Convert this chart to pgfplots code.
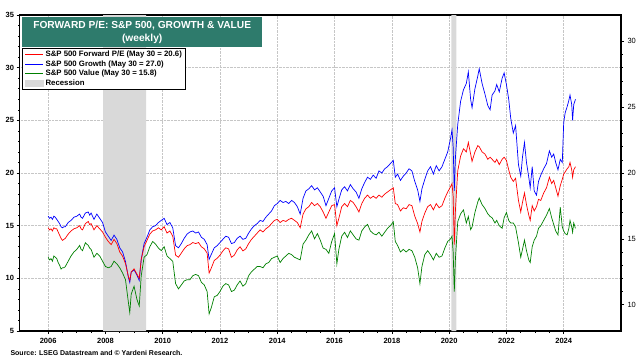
\documentclass[border=0pt]{standalone}
\usepackage{pgfplots}
\pgfplotsset{compat=1.18}
\usepackage{fontspec}
\setmainfont{Liberation Sans}
\definecolor{titleteal}{HTML}{2E7B6C}
\definecolor{recgray}{HTML}{D9D9D9}
\definecolor{sgreen}{HTML}{008000}

\begin{document}
\begin{tikzpicture}
\useasboundingbox (-19.5pt,-29pt) rectangle (620.5pt,331pt);
\begin{axis}[
  at={(0,0)}, anchor=south west,
  scale only axis, width=601.5pt, height=316pt,
  xmin=2005, xmax=2026, ymin=5, ymax=35,
  xtick={2006,2008,...,2024},
  minor x tick num=3,
  ytick={5,10,...,35}, minor y tick num=4,
  xtick pos=lower, ytick pos=left,
  tick align=outside,
  major tick length=3pt, minor tick length=1.5pt,
  axis line style={line width=1.3pt},
  every tick/.style={black, line width=0.6pt},
  grid=major,
  major grid style={densely dotted, gray!45, line width=0.6pt},
  /pgf/number format/assume math mode=true,
  /pgf/number format/set thousands separator={},
  ticklabel style={font=\bfseries\fontsize{7.5}{8}\selectfont},
  xticklabel style={yshift=-1pt},
  yticklabel style={xshift=1pt},
]
\addplot[fill=recgray, draw=none, forget plot] coordinates {(2007.92,5) (2009.42,5) (2009.42,35) (2007.92,35)} \closedcycle;
\addplot[fill=recgray, draw=none, forget plot] coordinates {(2020.08,5) (2020.25,5) (2020.25,35) (2020.08,35)} \closedcycle;
% S&P 500 Growth (left axis)
\addplot[blue, line width=0.7pt] coordinates {
(2006.0,15.9) (2006.05,15.7) (2006.1,15.8) (2006.15,15.6) (2006.2,15.9) (2006.25,15.8) (2006.3,15.6) (2006.35,15.4) (2006.4,15.2) (2006.45,14.9) (2006.5,14.8) (2006.55,14.9) (2006.6,14.9) (2006.65,15.1) (2006.7,15.3) (2006.8,15.5) (2006.9,15.8) (2007.0,15.9) (2007.1,16.1) (2007.15,15.8) (2007.2,15.7) (2007.3,16.2) (2007.4,16.3) (2007.45,16.0) (2007.5,16.2) (2007.6,15.6) (2007.7,16.1) (2007.8,15.7) (2007.9,15.3) (2008.0,14.4) (2008.1,14.0) (2008.2,13.6) (2008.3,14.1) (2008.4,13.7) (2008.5,12.9) (2008.6,12.5) (2008.7,11.6) (2008.8,10.1) (2008.85,9.6) (2008.9,10.6) (2009.0,10.8) (2009.1,10.3) (2009.18,9.8) (2009.25,11.8) (2009.35,13.3) (2009.45,13.9) (2009.55,14.6) (2009.65,14.9) (2009.75,15.0) (2009.85,15.3) (2009.95,15.5) (2010.05,15.7) (2010.15,15.1) (2010.25,15.3) (2010.35,14.8) (2010.45,13.1) (2010.55,12.9) (2010.65,13.3) (2010.75,13.8) (2010.85,14.2) (2010.95,14.4) (2011.05,14.5) (2011.15,14.3) (2011.25,14.4) (2011.35,13.9) (2011.45,13.7) (2011.55,13.2) (2011.62,11.8) (2011.7,12.3) (2011.8,12.9) (2011.9,13.1) (2012.0,13.4) (2012.1,13.7) (2012.2,14.0) (2012.3,13.9) (2012.4,13.3) (2012.5,13.4) (2012.6,13.8) (2012.7,14.0) (2012.8,13.7) (2012.9,13.8) (2013.0,14.3) (2013.1,14.7) (2013.2,15.0) (2013.3,15.2) (2013.4,15.5) (2013.5,15.4) (2013.6,15.8) (2013.7,16.1) (2013.8,16.4) (2013.9,16.9) (2014.0,17.1) (2014.1,17.4) (2014.2,17.2) (2014.3,17.3) (2014.4,17.1) (2014.5,17.4) (2014.6,17.2) (2014.7,16.8) (2014.8,16.1) (2014.9,17.6) (2015.0,18.3) (2015.1,18.5) (2015.2,18.8) (2015.3,18.4) (2015.4,18.6) (2015.5,18.2) (2015.6,17.8) (2015.7,16.9) (2015.8,17.6) (2015.9,18.3) (2016.0,18.6) (2016.08,16.8) (2016.15,17.5) (2016.25,18.4) (2016.35,18.7) (2016.45,18.3) (2016.55,18.9) (2016.65,18.5) (2016.75,18.2) (2016.85,17.6) (2016.95,18.5) (2017.05,19.1) (2017.15,19.6) (2017.25,19.4) (2017.35,19.8) (2017.45,19.5) (2017.55,20.2) (2017.65,20.0) (2017.75,20.4) (2017.85,20.6) (2017.95,20.9) (2018.05,21.2) (2018.12,19.6) (2018.2,19.9) (2018.3,19.3) (2018.4,19.7) (2018.5,20.0) (2018.6,20.4) (2018.7,20.2) (2018.8,19.2) (2018.9,18.4) (2018.98,17.3) (2019.05,18.5) (2019.15,19.4) (2019.25,20.2) (2019.35,20.6) (2019.45,19.9) (2019.55,20.7) (2019.65,20.2) (2019.75,20.6) (2019.85,21.3) (2019.95,22.0) (2020.05,23.3) (2020.1,24.1) (2020.14,22.5) (2020.18,18.3) (2020.22,21.5) (2020.3,24.6) (2020.4,26.8) (2020.5,27.9) (2020.6,28.5) (2020.67,29.6) (2020.75,27.0) (2020.8,26.2) (2020.9,28.0) (2021.0,29.2) (2021.05,29.9) (2021.15,28.5) (2021.25,27.5) (2021.35,26.4) (2021.43,26.0) (2021.5,27.4) (2021.6,27.8) (2021.66,28.4) (2021.75,27.7) (2021.85,29.0) (2021.92,29.5) (2022.0,28.4) (2022.08,27.0) (2022.15,25.2) (2022.24,23.8) (2022.32,24.5) (2022.42,20.8) (2022.5,19.7) (2022.56,21.5) (2022.63,22.9) (2022.7,21.0) (2022.78,19.6) (2022.83,18.6) (2022.9,20.6) (2022.97,18.3) (2023.05,17.9) (2023.12,19.2) (2023.2,19.8) (2023.3,20.4) (2023.4,20.9) (2023.5,22.1) (2023.58,21.5) (2023.65,21.8) (2023.72,21.0) (2023.8,20.3) (2023.88,21.3) (2023.95,21.0) (2024.0,24.8) (2024.05,25.7) (2024.12,26.3) (2024.18,26.9) (2024.22,27.4) (2024.28,26.5) (2024.31,25.0) (2024.35,26.5) (2024.41,27.0)
};
% S&P 500 Forward P/E (left axis)
\addplot[red, line width=0.7pt] coordinates {
(2006.0,14.8) (2006.05,14.6) (2006.1,14.7) (2006.15,14.5) (2006.2,14.8) (2006.25,14.7) (2006.3,14.7) (2006.35,14.4) (2006.4,14.1) (2006.45,13.8) (2006.5,13.6) (2006.55,13.7) (2006.6,13.8) (2006.65,14.0) (2006.7,14.2) (2006.8,14.5) (2006.9,14.7) (2007.0,14.8) (2007.1,15.0) (2007.15,14.7) (2007.2,14.6) (2007.3,15.2) (2007.4,15.4) (2007.45,15.1) (2007.5,15.2) (2007.6,14.6) (2007.7,15.0) (2007.8,14.7) (2007.9,14.4) (2008.0,13.9) (2008.1,13.5) (2008.2,13.2) (2008.3,13.7) (2008.4,13.3) (2008.5,12.5) (2008.6,12.1) (2008.7,11.4) (2008.8,10.2) (2008.85,9.8) (2008.9,10.6) (2009.0,10.9) (2009.1,10.4) (2009.18,10.0) (2009.25,11.8) (2009.35,13.0) (2009.45,13.6) (2009.55,14.2) (2009.65,14.5) (2009.75,14.6) (2009.85,14.8) (2009.95,14.6) (2010.05,14.9) (2010.15,14.3) (2010.25,14.5) (2010.35,14.0) (2010.45,12.2) (2010.55,12.0) (2010.65,12.4) (2010.75,12.8) (2010.85,13.1) (2010.95,13.2) (2011.05,13.4) (2011.15,13.3) (2011.25,13.4) (2011.35,13.0) (2011.45,12.8) (2011.55,12.4) (2011.62,10.5) (2011.7,11.0) (2011.8,11.7) (2011.9,11.9) (2012.0,12.2) (2012.1,12.6) (2012.2,12.9) (2012.3,12.8) (2012.4,12.0) (2012.5,12.2) (2012.6,12.7) (2012.7,13.0) (2012.8,12.6) (2012.9,12.8) (2013.0,13.3) (2013.1,13.7) (2013.2,14.0) (2013.3,14.3) (2013.4,14.6) (2013.5,14.4) (2013.6,14.7) (2013.7,14.9) (2013.8,15.2) (2013.9,15.5) (2014.0,15.6) (2014.1,15.3) (2014.2,15.5) (2014.3,15.4) (2014.4,15.6) (2014.5,15.7) (2014.6,15.5) (2014.7,15.3) (2014.8,14.8) (2014.9,16.1) (2015.0,16.6) (2015.1,16.8) (2015.2,17.2) (2015.3,16.9) (2015.4,17.1) (2015.5,16.8) (2015.6,16.3) (2015.7,15.7) (2015.8,16.3) (2015.9,16.9) (2016.0,17.0) (2016.08,15.0) (2016.15,15.7) (2016.25,16.8) (2016.35,17.1) (2016.45,16.8) (2016.55,17.4) (2016.65,17.2) (2016.75,16.8) (2016.85,16.3) (2016.95,17.1) (2017.05,17.6) (2017.15,17.9) (2017.25,17.6) (2017.35,17.8) (2017.45,17.6) (2017.55,17.9) (2017.65,17.7) (2017.75,18.0) (2017.85,18.2) (2017.95,18.4) (2018.05,18.6) (2018.12,17.1) (2018.2,17.0) (2018.3,16.4) (2018.4,16.7) (2018.5,16.6) (2018.6,17.0) (2018.7,16.9) (2018.8,15.9) (2018.9,15.2) (2018.98,14.4) (2019.05,15.4) (2019.15,16.2) (2019.25,16.8) (2019.35,17.0) (2019.45,16.5) (2019.55,17.1) (2019.65,16.7) (2019.75,16.9) (2019.85,17.6) (2019.95,18.2) (2020.05,18.7) (2020.1,19.0) (2020.14,17.8) (2020.18,13.2) (2020.22,16.5) (2020.3,20.2) (2020.4,21.6) (2020.5,22.3) (2020.6,22.0) (2020.67,22.9) (2020.75,21.8) (2020.8,21.1) (2020.9,22.0) (2021.0,22.6) (2021.05,22.5) (2021.15,22.0) (2021.25,21.8) (2021.35,21.3) (2021.43,21.5) (2021.5,21.3) (2021.6,21.0) (2021.66,21.3) (2021.75,20.8) (2021.85,21.3) (2021.92,21.5) (2022.0,21.2) (2022.08,20.3) (2022.15,19.6) (2022.24,19.2) (2022.32,19.5) (2022.42,17.4) (2022.5,16.3) (2022.56,17.2) (2022.63,18.1) (2022.7,17.0) (2022.78,16.0) (2022.83,15.5) (2022.9,16.9) (2022.97,16.4) (2023.05,16.8) (2023.12,17.5) (2023.2,17.4) (2023.3,18.1) (2023.4,18.6) (2023.5,19.6) (2023.58,19.0) (2023.65,19.3) (2023.72,18.6) (2023.8,17.8) (2023.88,18.8) (2023.95,19.4) (2024.0,19.9) (2024.05,20.1) (2024.12,20.4) (2024.18,20.6) (2024.22,21.0) (2024.28,20.3) (2024.31,19.6) (2024.35,20.3) (2024.41,20.6)
};
\end{axis}
\begin{axis}[
  at={(0,0)}, anchor=south west,
  scale only axis, width=601.5pt, height=316pt,
  xmin=2005, xmax=2026, ymin=8, ymax=32,
  axis x line=none, axis y line*=right,
  ytick={10,15,...,30}, minor y tick num=4,
  tick align=outside,
  major tick length=3pt, minor tick length=1.5pt,
  axis line style={line width=1.3pt},
  every tick/.style={black, line width=0.6pt},
  /pgf/number format/assume math mode=true,
  ticklabel style={font=\fontsize{7.5}{8}\selectfont},
  legend cell align=left,
  legend style={at={(0.0042,0.8956)}, anchor=north west, draw=black, line width=0.9pt,
    font=\bfseries\fontsize{7.8}{8.5}\selectfont, inner xsep=2pt, inner ysep=0.5pt, row sep=-1.5pt},
  legend image code/.code={\draw[#1, line width=1.1pt] (0pt,0pt) -- (18pt,0pt);},
]
\addlegendimage{red}
\addlegendentry{S\&P 500 Forward P/E (May 30 = 20.6)}
\addlegendimage{blue}
\addlegendentry{S\&P 500 Growth (May 30 = 27.0)}
\addlegendimage{sgreen}
\addlegendentry{S\&P 500 Value (May 30 = 15.8)}
\addlegendimage{legend image code/.code={\fill[recgray] (0pt,-3pt) rectangle (18pt,3pt);}}
\addlegendentry{Recession}
% S&P 500 Value (right axis)
\addplot[sgreen, line width=0.7pt, forget plot] coordinates {
(2006.0,13.6) (2006.05,13.4) (2006.1,13.5) (2006.15,13.3) (2006.2,13.7) (2006.25,13.6) (2006.3,13.5) (2006.35,13.2) (2006.4,13.0) (2006.45,12.7) (2006.5,12.8) (2006.55,12.8) (2006.6,12.9) (2006.65,13.1) (2006.7,13.3) (2006.8,13.7) (2006.9,14.0) (2007.0,14.2) (2007.1,14.5) (2007.15,14.2) (2007.2,14.1) (2007.3,14.7) (2007.4,14.5) (2007.45,14.3) (2007.5,14.2) (2007.6,13.6) (2007.7,13.9) (2007.8,13.7) (2007.9,13.3) (2008.0,12.9) (2008.1,12.8) (2008.2,12.9) (2008.3,13.3) (2008.4,13.1) (2008.5,12.8) (2008.6,12.4) (2008.7,11.9) (2008.8,10.2) (2008.85,9.4) (2008.9,10.8) (2009.0,11.4) (2009.1,10.4) (2009.18,9.9) (2009.25,12.2) (2009.35,13.6) (2009.45,13.8) (2009.55,14.4) (2009.65,14.8) (2009.75,14.6) (2009.85,14.3) (2009.95,14.1) (2010.05,14.4) (2010.15,13.7) (2010.25,13.5) (2010.35,13.3) (2010.45,11.6) (2010.55,11.2) (2010.65,11.5) (2010.75,11.8) (2010.85,11.9) (2010.95,11.9) (2011.05,12.2) (2011.15,12.3) (2011.25,12.2) (2011.35,11.7) (2011.45,11.5) (2011.55,11.0) (2011.62,9.3) (2011.7,9.8) (2011.8,10.6) (2011.9,10.7) (2012.0,11.0) (2012.1,11.4) (2012.2,11.6) (2012.3,11.5) (2012.4,11.0) (2012.5,11.1) (2012.6,11.5) (2012.7,11.8) (2012.8,11.4) (2012.9,11.6) (2013.0,12.2) (2013.1,12.5) (2013.2,12.7) (2013.3,12.9) (2013.4,12.9) (2013.5,12.8) (2013.6,13.1) (2013.7,13.2) (2013.8,13.5) (2013.9,13.6) (2014.0,13.7) (2014.1,13.2) (2014.2,13.5) (2014.3,13.7) (2014.4,13.9) (2014.5,13.8) (2014.6,13.6) (2014.7,13.5) (2014.8,13.4) (2014.9,14.6) (2015.0,14.9) (2015.1,15.3) (2015.2,15.6) (2015.3,15.0) (2015.4,15.4) (2015.5,14.9) (2015.6,14.3) (2015.7,14.2) (2015.8,13.9) (2015.9,14.8) (2016.0,15.4) (2016.08,13.1) (2016.15,14.2) (2016.25,15.2) (2016.35,15.5) (2016.45,15.1) (2016.55,15.6) (2016.65,15.3) (2016.75,15.0) (2016.85,14.9) (2016.95,15.6) (2017.05,15.9) (2017.15,16.1) (2017.25,15.6) (2017.35,15.4) (2017.45,15.3) (2017.55,15.5) (2017.65,15.2) (2017.75,15.5) (2017.85,15.8) (2017.95,16.0) (2018.05,16.3) (2018.12,14.8) (2018.2,14.5) (2018.3,14.0) (2018.4,14.2) (2018.5,14.0) (2018.6,14.2) (2018.7,14.1) (2018.8,13.6) (2018.9,12.8) (2018.98,11.6) (2019.05,12.9) (2019.15,13.8) (2019.25,14.1) (2019.35,13.8) (2019.45,13.4) (2019.55,13.9) (2019.65,13.6) (2019.75,13.7) (2019.85,14.3) (2019.95,14.8) (2020.05,15.0) (2020.1,15.2) (2020.14,14.0) (2020.18,11.0) (2020.22,13.5) (2020.3,16.3) (2020.4,16.9) (2020.5,17.2) (2020.6,16.2) (2020.67,16.7) (2020.75,15.7) (2020.8,15.9) (2020.9,17.0) (2021.0,17.8) (2021.05,18.1) (2021.15,17.6) (2021.25,17.3) (2021.35,16.9) (2021.43,16.7) (2021.5,16.6) (2021.6,16.2) (2021.66,16.4) (2021.75,16.0) (2021.85,15.8) (2021.92,16.6) (2022.0,17.0) (2022.08,16.4) (2022.15,16.2) (2022.24,16.2) (2022.32,15.9) (2022.42,14.7) (2022.5,13.6) (2022.56,14.2) (2022.63,14.9) (2022.7,14.1) (2022.78,13.4) (2022.83,13.2) (2022.9,14.4) (2022.97,14.9) (2023.05,15.2) (2023.12,15.8) (2023.2,16.0) (2023.3,16.4) (2023.4,16.8) (2023.5,17.3) (2023.58,16.6) (2023.65,16.1) (2023.72,15.6) (2023.8,15.3) (2023.88,17.4) (2023.95,15.9) (2024.0,15.6) (2024.05,15.4) (2024.12,15.3) (2024.18,15.8) (2024.22,16.4) (2024.28,15.9) (2024.31,15.5) (2024.35,16.2) (2024.41,15.8)
};
\node[anchor=north west, fill=titleteal, text=white, align=center,
  minimum width=240pt, minimum height=30pt, inner sep=1pt,
  font=\bfseries\fontsize{10.2}{12.5}\selectfont]
  at ([xshift=2.5pt,yshift=-2pt]rel axis cs:0,1) {FORWARD P/E: S\&P 500, GROWTH \& VALUE\\(weekly)};
\end{axis}
\node[anchor=west, font=\bfseries\fontsize{7}{8}\selectfont] at (-12.5pt,-22pt) {Source: LSEG Datastream and © Yardeni Research.};
\end{tikzpicture}
\end{document}
